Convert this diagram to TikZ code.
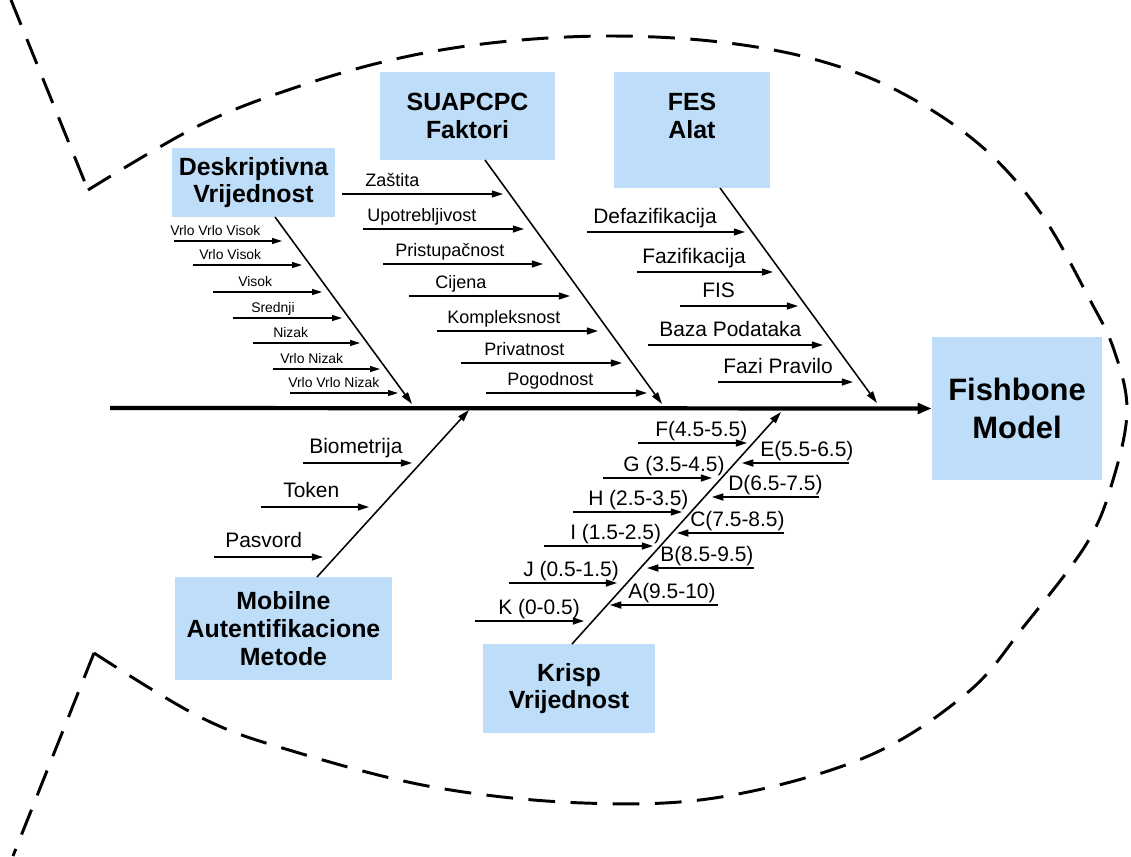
\documentclass[tikz,border=0pt]{standalone}
\usepackage{fontspec}
\setmainfont{Liberation Sans}
\usetikzlibrary{arrows.meta}
\definecolor{boxblue}{RGB}{189,221,248}

% one horizontal rib: name, x start, x end, y, label x, label text
\newcommand\fbrib[6]{%
  \coordinate (#1s) at (#2,#4);
  \coordinate (#1e) at (#3,#4);
  \draw[rib] (#1s) -- (#1e);
  \node[lbl] (#1t) at (#5,{#4-\ribgap}) {#6};
}

\begin{document}
\begin{tikzpicture}[x=0.025cm, y=-0.025cm,
  box/.style={fill=boxblue, draw=none, inner sep=0pt, align=center,
    font=\bfseries\fontsize{17.7}{19.8}\selectfont},
  rib/.style={line width=1.1pt, -{Triangle[length=8pt,width=5pt]}},
  bone/.style={line width=1.1pt, -{Triangle[length=8.5pt,width=5pt]}},
  lbl/.style={anchor=base west, inner sep=0pt},
  outline/.style={line width=2.1pt, dash pattern=on 19pt off 11pt},
]
\useasboundingbox (0,0) rectangle (1131,856);

% fish outline
\draw[outline] (11,0) -- (88,190);
\draw[outline] plot[smooth, tension=0.6] coordinates {
  (88,190) (200,125) (300,86) (400,58) (500,42) (610,36) (720,42)
  (817,60) (900,92) (980,145) (1040,212) (1090,300) (1114,350)
  (1127,410) (1113,480) (1087,543) (1025,625) (967,693) (866,757)
  (721,797) (584,803) (433,787) (289,750) (200,717) (94,653)};
\draw[outline] (94,653) -- (13,856);

% category boxes
\node[box, minimum width=4.075cm, minimum height=1.725cm] (desc) at (253.5,182.5) {Deskriptivna\\Vrijednost};
\node[box, minimum width=4.375cm, minimum height=2.2cm] (suap) at (467.5,116) {SUAPCPC\\Faktori};
\node[box, minimum width=3.9cm, minimum height=2.9cm] (fes) at (692,130) {};
\node[box, fill=none] (fesText) at (692,116) {FES\\Alat};
\node[box, minimum width=5.425cm, minimum height=2.575cm] (mob) at (283.5,628.5) {Mobilne\\Autentifikacione\\Metode};
\node[box, minimum width=4.3cm, minimum height=2.225cm] (krisp) at (569,688.5) {Krisp\\Vrijednost};
\node[box, minimum width=4.25cm, minimum height=3.575cm,
  font=\bfseries\fontsize{22}{27}\selectfont] (fish) at (1017,408.5) {Fishbone\\Model};

% spine
\coordinate (tail) at (110,408);
\draw[line width=3pt, -{Triangle[length=10pt,width=7.5pt]}] (tail) -- (fish.west);

% bones
\coordinate (descB) at (275,217);   \coordinate (descT) at (412,404);
\coordinate (suapB) at (485,160);   \coordinate (suapT) at (662,404);
\coordinate (fesB)  at (720,188);   \coordinate (fesT)  at (877,403);
\coordinate (mobB)  at (317,577);   \coordinate (mobT)  at (469,410);
\coordinate (krispB) at (572,644);  \coordinate (krispT) at (781,412);
\draw[bone] (descB) -- (descT);
\draw[bone] (suapB) -- (suapT);
\draw[bone] (fesB) -- (fesT);
\draw[bone] (mobB) -- (mobT);
\draw[bone] (krispB) -- (krispT);

% Deskriptivna Vrijednost ribs
\begin{scope}[lbl/.append style={font=\fontsize{9.9}{11}\selectfont},
  rib/.style={line width=1pt, -{Triangle[length=7pt,width=4.2pt]}}]
\def\ribgap{6}
\fbrib{d1}{174}{282}{241}{170}{Vrlo Vrlo Visok}
\fbrib{d2}{193}{302}{265}{199}{Vrlo Visok}
\fbrib{d3}{213}{322}{292}{238}{Visok}
\fbrib{d4}{233}{342}{318}{251}{Srednji}
\fbrib{d5}{253}{360}{343}{273}{Nizak}
\fbrib{d6}{273}{380}{369}{280}{Vrlo Nizak}
\fbrib{d7}{290}{398}{393}{288}{Vrlo Vrlo Nizak}
\end{scope}

% SUAPCPC Faktori ribs
\begin{scope}[lbl/.append style={font=\fontsize{12.8}{14}\selectfont}]
\def\ribgap{8}
\fbrib{s1}{342}{503}{194}{365}{Zaštita}
\fbrib{s2}{363}{524}{229}{367}{Upotrebljivost}
\fbrib{s3}{383}{543}{264}{395}{Pristupačnost}
\fbrib{s4}{409}{570}{296}{435}{Cijena}
\fbrib{s5}{437}{598}{331}{447}{Kompleksnost}
\fbrib{s6}{461}{622}{363}{484}{Privatnost}
\fbrib{s7}{486}{647}{393}{507}{Pogodnost}
\end{scope}

% FES Alat ribs
\begin{scope}[lbl/.append style={font=\fontsize{14.9}{16}\selectfont}]
\def\ribgap{9}
\fbrib{f1}{587}{745}{232}{593}{Defazifikacija}
\fbrib{f2}{637}{773}{272}{642}{Fazifikacija}
\fbrib{f3}{680}{798}{306}{702}{FIS}
\fbrib{f4}{648}{823}{345}{659}{Baza Podataka}
\fbrib{f5}{718}{853}{382}{723}{Fazi Pravilo}
\end{scope}

% Mobilne Autentifikacione Metode ribs
\begin{scope}[lbl/.append style={font=\fontsize{14.9}{16}\selectfont}]
\def\ribgap{10}
\fbrib{m1}{303}{412}{463}{309}{Biometrija}
\fbrib{m2}{261}{369}{507}{283}{Token}
\fbrib{m3}{214}{323}{557}{225}{Pasvord}
\end{scope}

% Krisp Vrijednost ribs
\begin{scope}[lbl/.append style={font=\fontsize{14.9}{16}\selectfont}]
\def\ribgap{7}
\fbrib{k1}{638}{747}{443}{655}{F(4.5-5.5)}
\fbrib{k2}{603}{712}{478}{623}{G (3.5-4.5)}
\fbrib{k3}{573}{682}{512}{588}{H (2.5-3.5)}
\fbrib{k4}{544}{653}{546}{570}{I (1.5-2.5)}
\fbrib{k5}{509}{617}{583}{523}{J (0.5-1.5)}
\fbrib{k6}{475}{584}{621}{498}{K (0-0.5)}
\fbrib{k7}{849}{742}{463}{760}{E(5.5-6.5)}
\fbrib{k8}{819}{712}{497}{728}{D(6.5-7.5)}
\fbrib{k9}{784}{677}{533}{690}{C(7.5-8.5)}
\fbrib{k10}{754}{647}{568}{660}{B(8.5-9.5)}
\fbrib{k11}{718}{610}{605}{628}{A(9.5-10)}
\end{scope}
\end{tikzpicture}
\end{document}
